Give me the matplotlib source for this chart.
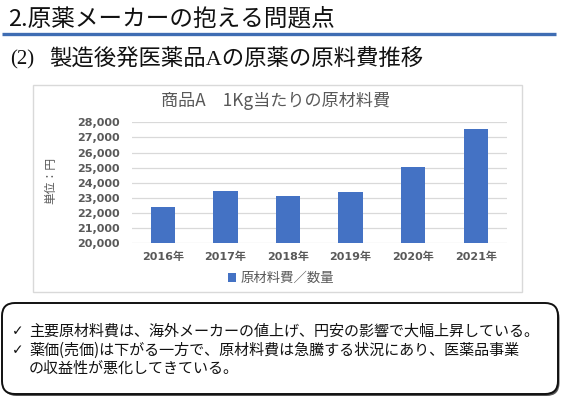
import numpy as np
import matplotlib
matplotlib.use('Agg')
import matplotlib.pyplot as plt
from matplotlib.patches import Rectangle, FancyBboxPatch

plt.rcParams['font.family'] = ['Noto Sans CJK JP', 'DejaVu Sans']

# data
years = ['2016年', '2017年', '2018年', '2019年', '2020年', '2021年']
cost = [22400, 23450, 23100, 23420, 25020, 27580]
yticks = [20000, 21000, 22000, 23000, 24000, 25000, 26000, 27000, 28000]

title = '2.原薬メーカーの抱える問題点'
sub_no = '(2)'
subtitle = '製造後発医薬品Aの原薬の原料費推移'
chart_title = '商品A　1Kg当たりの原材料費'
ylab = '単位：円'
series_name = '原材料費／数量'
notes = ['主要原材料費は、海外メーカーの値上げ、円安の影響で大幅上昇している。',
         '薬価(売価)は下がる一方で、原材料費は急騰する状況にあり、医薬品事業',
         'の収益性が悪化してきている。']
checks = [True, True, False]

W, H = 565, 398
fig = plt.figure(figsize=(W / 100, H / 100), dpi=100)

# background layer in pixel coords
bg = fig.add_axes([0, 0, 1, 1])
bg.set_xlim(0, W)
bg.set_ylim(H, 0)
bg.axis('off')

bg.text(8, 19, title, fontsize=17, va='center', ha='left', color='#111111')
bg.plot([2, 556], [34, 34], color='#3F6DB3', lw=2.4, solid_capstyle='butt')
bg.text(10, 60, sub_no, fontsize=15, va='center', ha='left',
        family=['Liberation Serif', 'Noto Sans CJK JP'], color='#111111')
bg.text(49, 60, subtitle, fontsize=16.1, va='center', ha='left',
        family=['Liberation Serif', 'Noto Sans CJK JP'], color='#111111')

# chart frame
bg.add_patch(Rectangle((33, 85), 489, 207, fill=False, ec='#d9d9d9', lw=1))
bg.text(276, 101, chart_title, fontsize=12.3, ha='center', va='center', color='#595959')

# callout box
bg.add_patch(FancyBboxPatch((3.5, 305), 556, 91, boxstyle='round,pad=0,rounding_size=13',
                            fc='#555555', ec='none'))
bg.add_patch(FancyBboxPatch((2, 303), 556, 91, boxstyle='round,pad=0,rounding_size=13',
                            fc='white', ec='#111111', lw=1.4))
line_y = [331, 350, 368]
for s, c, yy in zip(notes, checks, line_y):
    if c:
        bg.text(12, yy, '✓', fontsize=10, ha='left', va='center', color='#111111',
                family=['DejaVu Sans'])
    bg.text(29, yy, s, fontsize=10.85, ha='left', va='center', color='#111111')

# bar chart
ax = fig.add_axes([131.7 / W, 1 - 243.3 / H, (507 - 131.7) / W, 121 / H])
ax.set_facecolor('none')
x = np.arange(len(years))
bars = ax.bar(x, cost, width=0.39, color='#4472C4', zorder=3, label=series_name)
ax.set_xlim(-0.5, len(years) - 0.5)
ax.set_ylim(20000, 28000)
ax.set_yticks(yticks)
ax.set_yticklabels([f'{v:,}' for v in yticks])
ax.set_xticks(x)
ax.set_xticklabels(years)
ax.grid(axis='y', color='#d9d9d9', lw=0.9, zorder=0)
ax.set_axisbelow(True)
for sp in ax.spines.values():
    sp.set_visible(False)
ax.tick_params(axis='both', length=0, colors='#595959')
ax.tick_params(axis='y', pad=8.4)
ax.tick_params(axis='x', pad=6)
for lb in ax.get_yticklabels() + ax.get_xticklabels():
    lb.set_fontsize(8)
    lb.set_fontweight('bold')
    lb.set_family(['DejaVu Sans', 'Noto Sans CJK JP'])
ax.set_ylabel(ylab, fontsize=8.5, color='#595959', rotation=90)
ax.yaxis.set_label_coords((57 - 131.7) / 375.3, (243.3 - 180) / 121)

ax.legend(loc='center', bbox_to_anchor=(281 / W, 1 - 278 / H), bbox_transform=fig.transFigure,
          frameon=False, fontsize=9.6, handlelength=0.6, handleheight=0.6, handletextpad=0.4,
          labelcolor='#595959')

fig.savefig('out.png', dpi=100)
